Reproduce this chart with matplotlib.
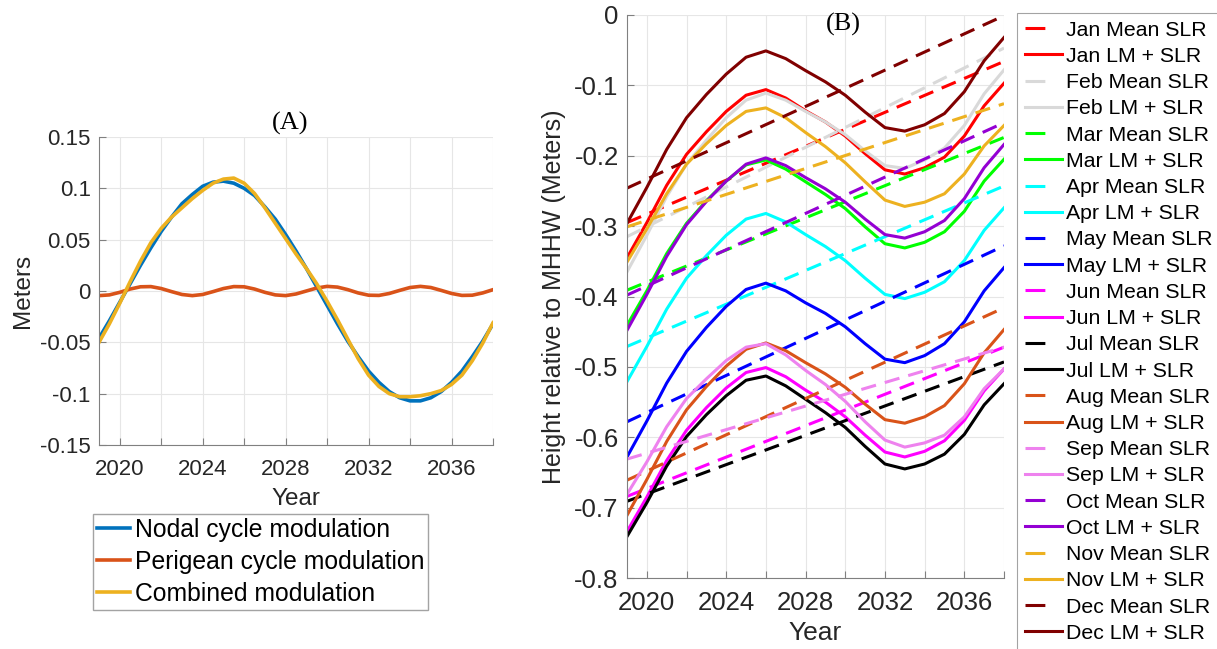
import matplotlib
matplotlib.use("Agg")
import matplotlib.pyplot as plt
from matplotlib.lines import Line2D

plt.rcParams["font.family"] = ["Liberation Sans", "DejaVu Sans"]

# ---- panel (A): modulation curves, sampled every half year ----
years_a = [2019 + 0.5 * i for i in range(39)]
nodal = [-0.046, -0.029, -0.011, 0.007, 0.025, 0.042, 0.058, 0.072, 0.085,
         0.094, 0.102, 0.106, 0.107, 0.105, 0.100, 0.093, 0.082, 0.070,
         0.055, 0.039, 0.022, 0.004, -0.014, -0.032, -0.049, -0.064, -0.078,
         -0.089, -0.098, -0.104, -0.107, -0.107, -0.104, -0.098, -0.089,
         -0.078, -0.064, -0.049, -0.032]
perigean = [-0.0045, -0.0038, -0.0013, 0.0019, 0.0041, 0.0043, 0.0024,
            -0.0006, -0.0034, -0.0045, -0.0034, -0.0006, 0.0024, 0.0043,
            0.0041, 0.0019, -0.0013, -0.0038, -0.0045, -0.0029, 0.0,
            0.0029, 0.0045, 0.0038, 0.0013, -0.0019, -0.0041, -0.0043,
            -0.0024, 0.0006, 0.0034, 0.0045, 0.0034, 0.0006, -0.0024,
            -0.0043, -0.0041, -0.0019, 0.0013]
combined = [-0.050, -0.032, -0.012, 0.009, 0.029, 0.047, 0.061, 0.072, 0.081,
            0.090, 0.098, 0.105, 0.109, 0.110, 0.105, 0.095, 0.081, 0.066,
            0.051, 0.036, 0.022, 0.007, -0.010, -0.028, -0.047, -0.066,
            -0.082, -0.093, -0.100, -0.103, -0.103, -0.102, -0.100, -0.097,
            -0.091, -0.082, -0.068, -0.051, -0.031]

# ---- panel (B): monthly mean SLR (straight) and LM + SLR (yearly) ----
months = ["Jan", "Feb", "Mar", "Apr", "May", "Jun",
          "Jul", "Aug", "Sep", "Oct", "Nov", "Dec"]
month_colors = ["#ff0000", "#d9d9d9", "#00ff00", "#00ffff", "#0000ff",
                "#ff00ff", "#000000", "#d95319", "#ee82ee", "#9400d3",
                "#edb120", "#800000"]
mean_years = [2019, 2038]
mean_slr = {
    "Jan": [-0.295, -0.066], "Feb": [-0.315, -0.047], "Mar": [-0.391, -0.174],
    "Apr": [-0.471, -0.243], "May": [-0.578, -0.328], "Jun": [-0.684, -0.472],
    "Jul": [-0.691, -0.493], "Aug": [-0.661, -0.416], "Sep": [-0.631, -0.472],
    "Oct": [-0.398, -0.153], "Nov": [-0.301, -0.126], "Dec": [-0.246, -0.001],
}
years_b = list(range(2019, 2039))
lm_slr = {
    "Jan": [-0.345, -0.295, -0.242, -0.198, -0.166, -0.137, -0.114, -0.106,
            -0.118, -0.136, -0.152, -0.172, -0.197, -0.220, -0.226, -0.217,
            -0.202, -0.172, -0.129, -0.097],
    "Feb": [-0.365, -0.313, -0.258, -0.212, -0.178, -0.146, -0.121, -0.111,
            -0.121, -0.137, -0.152, -0.170, -0.193, -0.214, -0.218, -0.206,
            -0.189, -0.157, -0.112, -0.078],
    "Mar": [-0.441, -0.392, -0.339, -0.296, -0.264, -0.236, -0.213, -0.206,
            -0.219, -0.237, -0.255, -0.275, -0.301, -0.325, -0.331, -0.323,
            -0.308, -0.279, -0.236, -0.205],
    "Apr": [-0.521, -0.471, -0.418, -0.374, -0.342, -0.313, -0.290, -0.282,
            -0.294, -0.312, -0.329, -0.349, -0.374, -0.397, -0.403, -0.394,
            -0.379, -0.349, -0.306, -0.274],
    "May": [-0.628, -0.577, -0.523, -0.478, -0.444, -0.414, -0.390, -0.381,
            -0.392, -0.409, -0.424, -0.443, -0.467, -0.489, -0.494, -0.484,
            -0.467, -0.436, -0.392, -0.359],
    "Jun": [-0.734, -0.685, -0.633, -0.590, -0.558, -0.530, -0.508, -0.501,
            -0.514, -0.533, -0.550, -0.571, -0.597, -0.621, -0.628, -0.620,
            -0.605, -0.576, -0.534, -0.503],
    "Jul": [-0.741, -0.693, -0.641, -0.599, -0.568, -0.541, -0.519, -0.513,
            -0.527, -0.546, -0.565, -0.586, -0.613, -0.638, -0.645, -0.638,
            -0.624, -0.596, -0.554, -0.524],
    "Aug": [-0.711, -0.660, -0.606, -0.561, -0.528, -0.499, -0.475, -0.466,
            -0.477, -0.494, -0.510, -0.529, -0.553, -0.575, -0.580, -0.571,
            -0.555, -0.524, -0.480, -0.447],
    "Sep": [-0.681, -0.635, -0.585, -0.545, -0.517, -0.491, -0.472, -0.467,
            -0.483, -0.505, -0.525, -0.549, -0.578, -0.604, -0.614, -0.608,
            -0.597, -0.571, -0.531, -0.503],
    "Oct": [-0.448, -0.397, -0.343, -0.298, -0.265, -0.236, -0.212, -0.203,
            -0.214, -0.231, -0.247, -0.266, -0.290, -0.312, -0.317, -0.308,
            -0.292, -0.261, -0.217, -0.184],
    "Nov": [-0.351, -0.304, -0.254, -0.212, -0.183, -0.157, -0.137, -0.132,
            -0.146, -0.167, -0.187, -0.210, -0.237, -0.263, -0.272, -0.266,
            -0.254, -0.226, -0.186, -0.157],
    "Dec": [-0.296, -0.245, -0.191, -0.146, -0.113, -0.084, -0.060, -0.051,
            -0.062, -0.079, -0.095, -0.114, -0.138, -0.160, -0.165, -0.156,
            -0.140, -0.109, -0.065, -0.032],
}

W, H = 1217, 649
TICK_C = "#262626"
AXIS_C = "#808080"


def style_axes(ax, tick_size, pad):
    for s in ("top", "right"):
        ax.spines[s].set_visible(False)
    for s in ("left", "bottom"):
        ax.spines[s].set_color(AXIS_C)
        ax.spines[s].set_linewidth(0.8)
    ax.tick_params(direction="in", length=5, width=0.8, color=AXIS_C,
                   labelcolor=TICK_C, labelsize=tick_size)
    ax.tick_params(axis="x", pad=pad)
    ax.tick_params(axis="y", pad=6)
    ax.grid(True, color="#e6e6e6", linewidth=0.8)
    ax.set_axisbelow(True)
    xt = list(range(2020, 2039, 2))
    ax.set_xticks(xt)
    ax.set_xticklabels([str(y) if (y - 2020) % 4 == 0 else "" for y in xt])
    ax.set_xlim(2019, 2038)


fig = plt.figure(figsize=(W / 100, H / 100), dpi=100)

# ---------------- (A) ----------------
axA = fig.add_axes([99 / W, 1 - 445 / H, 394 / W, 308 / H])
style_axes(axA, 16, 10)
la, = axA.plot(years_a, nodal, color="#0072bd", lw=2.6)
lb, = axA.plot(years_a, perigean, color="#d95319", lw=2.6)
lc, = axA.plot(years_a, combined, color="#edb120", lw=2.6)
axA.set_ylim(-0.15, 0.15)
yt = [-0.15, -0.1, -0.05, 0, 0.05, 0.1, 0.15]
axA.set_yticks(yt)
axA.set_yticklabels(["-0.15", "-0.1", "-0.05", "0", "0.05", "0.1", "0.15"])
axA.set_xlabel("Year", fontsize=17.5, color=TICK_C, labelpad=6)
axA.set_ylabel("Meters", fontsize=17.5, color=TICK_C, labelpad=4)
fig.text(290 / W, 1 - 123 / H, "(A)", ha="center", va="center",
         fontsize=19, family="Liberation Serif")
fig.legend([la, lb, lc],
           ["Nodal cycle modulation", "Perigean cycle modulation",
            "Combined modulation"],
           loc="upper left", bbox_to_anchor=(93 / W, 1 - 514 / H),
           borderaxespad=0, fontsize=17.8, handlelength=1.35,
           handletextpad=0.2, labelspacing=0.33, borderpad=0.15,
           frameon=True, fancybox=False, edgecolor="#8c8c8c")

# ---------------- (B) ----------------
axB = fig.add_axes([627 / W, 1 - 578 / H, 377 / W, 563 / H])
style_axes(axB, 18.5, 9)
handles, labels = [], []
for m, c in zip(months, month_colors):
    axB.plot(mean_years, mean_slr[m], color=c, lw=2.2, dashes=(5, 3))
    axB.plot(years_b, lm_slr[m], color=c, lw=2.2)
    handles.append(Line2D([], [], color=c, lw=2.2, dashes=(6.5, 20)))
    labels.append(f"{m} Mean SLR")
    handles.append(Line2D([], [], color=c, lw=2.2))
    labels.append(f"{m} LM + SLR")
axB.set_ylim(-0.8, 0)
ytb = [-0.8, -0.7, -0.6, -0.5, -0.4, -0.3, -0.2, -0.1, 0]
axB.set_yticks(ytb)
axB.set_yticklabels(["-0.8", "-0.7", "-0.6", "-0.5", "-0.4", "-0.3",
                     "-0.2", "-0.1", "0"])
axB.set_xlabel("Year", fontsize=19, color=TICK_C, labelpad=5)
axB.set_ylabel("Height relative to MHHW (Meters)", fontsize=18,
               color=TICK_C, labelpad=6)
fig.text(843 / W, 1 - 24 / H, "(B)", ha="center", va="center",
         fontsize=19, family="Liberation Serif")
fig.legend(handles, labels, loc="upper left",
           bbox_to_anchor=(1017 / W, 1 - 13 / H), borderaxespad=0,
           fontsize=15.3, handlelength=1.75, handletextpad=0.2,
           labelspacing=0.34, borderpad=0.36, frameon=True, fancybox=False,
           edgecolor="#8c8c8c")
fig.legends[-1].get_frame().set_linewidth(0.8)

fig.savefig("out.png", dpi=100)
